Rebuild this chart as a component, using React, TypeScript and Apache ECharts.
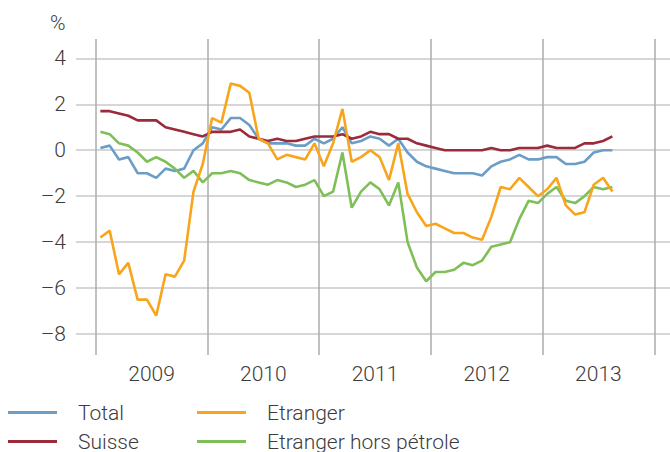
import React, { useEffect, useRef } from "react";
import * as echarts from "echarts";

const years = ["2009", "2010", "2011", "2012", "2013"];
const yTicks = [4, 2, 0, -2, -4, -6, -8];

// Monthly values, Jan 2009 – Aug 2013
const total = [
  0.1, 0.2, -0.4, -0.3, -1.0, -1.0, -1.2, -0.8, -0.9, -0.8, 0.0, 0.3,
  1.0, 0.9, 1.4, 1.4, 1.1, 0.5, 0.3, 0.3, 0.3, 0.2, 0.2, 0.5,
  0.3, 0.5, 1.0, 0.3, 0.4, 0.6, 0.5, 0.2, 0.5, -0.1, -0.5, -0.7,
  -0.8, -0.9, -1.0, -1.0, -1.0, -1.1, -0.7, -0.5, -0.4, -0.2, -0.4, -0.4,
  -0.3, -0.3, -0.6, -0.6, -0.5, -0.1, 0.0, 0.0,
];
const suisse = [
  1.7, 1.7, 1.6, 1.5, 1.3, 1.3, 1.3, 1.0, 0.9, 0.8, 0.7, 0.6,
  0.8, 0.8, 0.8, 0.9, 0.6, 0.5, 0.4, 0.5, 0.4, 0.4, 0.5, 0.6,
  0.6, 0.6, 0.7, 0.5, 0.6, 0.8, 0.7, 0.7, 0.5, 0.5, 0.3, 0.2,
  0.1, 0.0, 0.0, 0.0, 0.0, 0.0, 0.1, 0.0, 0.0, 0.1, 0.1, 0.1,
  0.2, 0.1, 0.1, 0.1, 0.3, 0.3, 0.4, 0.6,
];
const etranger = [
  -3.8, -3.5, -5.4, -4.9, -6.5, -6.5, -7.2, -5.4, -5.5, -4.8, -1.8, -0.6,
  1.4, 1.2, 2.9, 2.8, 2.5, 0.5, 0.3, -0.4, -0.2, -0.3, -0.4, 0.3,
  -0.7, 0.3, 1.8, -0.5, -0.3, 0.0, -0.3, -1.3, 0.3, -1.9, -2.7, -3.3,
  -3.2, -3.4, -3.6, -3.6, -3.8, -3.9, -2.9, -1.6, -1.7, -1.2, -1.6, -2.0,
  -1.7, -1.2, -2.4, -2.8, -2.7, -1.5, -1.2, -1.8,
];
const etrangerHorsPetrole = [
  0.8, 0.7, 0.3, 0.2, -0.1, -0.5, -0.3, -0.5, -0.8, -1.2, -0.9, -1.4,
  -1.0, -1.0, -0.9, -1.0, -1.3, -1.4, -1.5, -1.3, -1.4, -1.6, -1.5, -1.3,
  -2.0, -1.8, -0.1, -2.5, -1.8, -1.4, -1.7, -2.4, -1.4, -4.0, -5.1, -5.7,
  -5.3, -5.3, -5.2, -4.9, -5.0, -4.8, -4.2, -4.1, -4.0, -3.0, -2.2, -2.3,
  -1.9, -1.6, -2.2, -2.3, -2.0, -1.6, -1.7, -1.6,
];

const seriesNames = ["Total", "Suisse", "Etranger", "Etranger hors pétrole"];
const colors = {
  Total: "#6b9dc6",
  Suisse: "#9b2a3a",
  Etranger: "#f8a51c",
  "Etranger hors pétrole": "#7fbf58",
};

const toPoints = (arr: number[]) => arr.map((v, i) => [i + 0.5, v]);

const FONT = "Roboto, 'Liberation Sans', sans-serif";
const TEXT_COLOR = "#3c3c3c";
const FS = 21;

export default function App() {
  const ref = useRef<HTMLDivElement>(null);

  useEffect(() => {
    if (!ref.current) return;
    const chart = echarts.init(ref.current, undefined, { renderer: "svg" });
    const xMin = -2.12;
    const xMax = 61.69;
    const fmt = (v: number) => String(v).replace("-", "\u2013");
    const mkSeries = (name: string, data: number[]) => ({
      name,
      type: "line",
      xAxisIndex: 0,
      data: toPoints(data),
      showSymbol: false,
      symbol: "none",
      lineStyle: { width: 2.6, color: (colors as any)[name] },
      itemStyle: { color: (colors as any)[name] },
      z: 3,
    });
    const legendText = {
      fontSize: FS,
      fontWeight: 300,
      color: TEXT_COLOR,
      fontFamily: FONT,
      lineHeight: 19,
      padding: [0, 0, 0, 16],
    };
    const mkLegend = (name: string, left: number, top: number) => ({
      data: [name],
      orient: "horizontal",
      left,
      top,
      padding: 0,
      icon: "rect",
      itemWidth: 49,
      itemHeight: 3,
      textStyle: legendText,
    });
    chart.setOption({
      animation: false,
      textStyle: { fontFamily: FONT },
      title: {
        text: "%",
        left: 50,
        top: 12,
        padding: 0,
        textStyle: { fontSize: FS, fontWeight: 300, color: TEXT_COLOR, fontFamily: FONT },
      },
      grid: { left: 76, right: 0, top: 39, bottom: 97, containLabel: false },
      xAxis: [
        {
          type: "value",
          min: xMin,
          max: xMax,
          minInterval: 12,
          maxInterval: 12,
          axisLine: { show: false },
          axisTick: { show: false },
          axisLabel: { show: false },
          splitLine: {
            show: true,
            showMinLine: false,
            showMaxLine: false,
            lineStyle: { color: "#ababab", width: 1.5 },
          },
        },
        {
          type: "value",
          min: xMin,
          max: xMax,
          minInterval: 6,
          maxInterval: 6,
          position: "bottom",
          axisLine: { show: false },
          axisTick: { show: false },
          splitLine: { show: false },
          axisLabel: {
            show: true,
            margin: 8,
            fontSize: FS,
            fontWeight: 300,
            color: TEXT_COLOR,
            fontFamily: FONT,
            showMinLabel: false,
            showMaxLabel: false,
            formatter: (v: number) => {
              const r = Math.round(v);
              if (Math.abs(v - r) > 1e-6) return "";
              if (((r % 12) + 12) % 12 !== 6) return "";
              const idx = (r - 6) / 12;
              return years[idx] ?? "";
            },
          },
        },
      ],
      yAxis: {
        type: "value",
        min: -8.91,
        max: 4.84,
        minInterval: 2,
        maxInterval: 2,
        axisLine: { show: false },
        axisTick: { show: false },
        axisLabel: {
          margin: 10,
          fontSize: FS,
          fontWeight: 300,
          color: TEXT_COLOR,
          fontFamily: FONT,
          showMinLabel: false,
          showMaxLabel: false,
          formatter: (v: number) => (yTicks.includes(v) ? fmt(v) : ""),
        },
        splitLine: {
          show: true,
          showMinLine: false,
          showMaxLine: false,
          lineStyle: { color: "#c8c8c8", width: 1.5 },
        },
      },
      legend: [
        mkLegend(seriesNames[0], 8, 402),
        mkLegend(seriesNames[1], 8, 431),
        mkLegend(seriesNames[2], 197, 402),
        mkLegend(seriesNames[3], 197, 431),
      ],
      series: [
        mkSeries("Total", total),
        mkSeries("Suisse", suisse),
        mkSeries("Etranger hors pétrole", etrangerHorsPetrole),
        mkSeries("Etranger", etranger),
      ],
    });
    return () => chart.dispose();
  }, []);

  return <div ref={ref} style={{ width: 670, height: 452, position: "absolute", left: 0, top: 0 }} />;
}
